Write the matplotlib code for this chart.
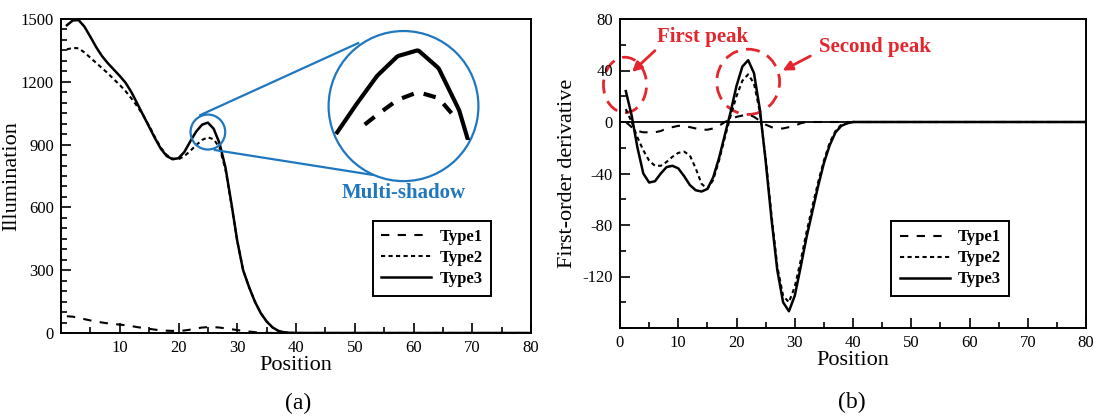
import numpy as np
import matplotlib
matplotlib.use("Agg")
import matplotlib.pyplot as plt
from matplotlib.patches import Ellipse
from matplotlib.ticker import MultipleLocator, FuncFormatter

plt.rcParams['font.family'] = ['Liberation Serif', 'DejaVu Serif']
plt.rcParams['axes.unicode_minus'] = False

# ---------------- data ----------------
position = np.arange(1, 81)

illum_type1 = [80, 78, 72, 66, 60, 55, 50, 46, 43, 40, 37, 33, 28, 24, 20, 16, 13, 11, 10, 10,
               12, 16, 21, 26, 28, 28, 26, 22, 18, 14, 10, 7, 4, 2, 1, 0] + [0] * 44
illum_type2 = [1355, 1362, 1360, 1340, 1315, 1290, 1265, 1240, 1212, 1185, 1155, 1120, 1082, 1040,
               990, 935, 885, 850, 833, 830, 845, 870, 897, 922, 935, 925, 885, 780, 615, 440,
               300, 220, 150, 95, 55, 27, 10, 3, 1, 0] + [0] * 40
illum_type3 = [1470, 1493, 1495, 1463, 1415, 1365, 1322, 1288, 1258, 1228, 1195, 1150, 1095, 1040,
               985, 930, 880, 845, 830, 835, 865, 915, 962, 995, 1005, 975, 905, 790, 620, 440,
               300, 220, 150, 95, 55, 27, 10, 3, 1, 0] + [0] * 40

deriv_type1 = [0, -4, -7, -8, -8, -8, -7, -5, -4, -3, -3, -4, -5, -6, -6, -5, -3, 0, 2, 4,
               5, 6, 4, 1, -2, -4, -5, -5, -4, -3, -1, 0] + [0] * 48
deriv_type2 = [10, 0, -12, -22, -30, -34, -34, -31, -27, -24, -23, -26, -36, -48, -52, -45, -30, -12, 5, 20,
               32, 37, 30, 8, -28, -72, -112, -135, -140, -128, -108, -86, -66, -47, -30, -16, -7, -2, -1, 0] + [0] * 40
deriv_type3 = [24, 5, -20, -40, -47, -46, -40, -35, -34, -36, -42, -49, -53, -54, -52, -43, -28, -10, 8, 28,
               43, 48, 38, 10, -30, -75, -115, -140, -147, -135, -113, -90, -70, -50, -32, -18, -8, -3, -1, 0] + [0] * 40

series_names = ['Type1', 'Type2', 'Type3']
x_ticks = [0, 10, 20, 30, 40, 50, 60, 70, 80]

# ---------------- styling ----------------
styles = {
    'Type1': dict(color='black', lw=1.5, linestyle=(0, (4, 4))),
    'Type2': dict(color='black', lw=1.5, linestyle=(0, (2, 1.6))),
    'Type3': dict(color='black', lw=1.8, linestyle='-'),
}
blue = '#1f77c0'
red = '#e3262d'

fig = plt.figure(figsize=(10.94, 4.17), dpi=100)
axA = fig.add_axes([61/1094, (417-333)/417, 470/1094, 314/417])
axB = fig.add_axes([620/1094, (417-328)/417, 466/1094, 309/417])

def style_axes(ax):
    for s in ax.spines.values():
        s.set_linewidth(1.4)
    ax.tick_params(which='both', direction='in', top=False, right=False, labelsize=12, width=1.2, pad=5)
    ax.tick_params(which='major', length=7)
    ax.tick_params(which='minor', length=4)
    ax.xaxis.set_minor_locator(MultipleLocator(5))

def make_legend(ax, x0, ytop):
    leg = ax.legend(loc='upper left', bbox_to_anchor=(x0, ytop), borderaxespad=0,
                    prop={'weight': 'bold', 'size': 12}, frameon=True, fancybox=False,
                    edgecolor='black', handlelength=3.0, handletextpad=0.5, labelspacing=0.3,
                    borderpad=0.5, framealpha=1)
    leg.get_frame().set_linewidth(1.4)
    return leg

# ---------------- panel (a) ----------------
for name, y in zip(series_names, [illum_type1, illum_type2, illum_type3]):
    axA.plot(position, y, label=name, **styles[name])
axA.set_xlim(0, 80)
axA.set_ylim(0, 1500)
axA.set_xticks(x_ticks)
axA.xaxis.set_major_formatter(FuncFormatter(lambda v, p: '' if v == 0 else f'{int(v)}'))
axA.set_yticks([0, 300, 600, 900, 1200, 1500])
axA.yaxis.set_minor_locator(MultipleLocator(50))
style_axes(axA)
axA.set_xlabel('Position', fontsize=16, labelpad=0)
axA.set_ylabel('Illumination', fontsize=16)
axA.yaxis.set_label_coords(-0.085, 0.5)
make_legend(axA, 0.664, 0.357)

# small circle and zoom circle
axA.add_patch(Ellipse((25, 960), 5.9, 167, fill=False, edgecolor=blue, lw=1.6, zorder=5))
axA.add_patch(Ellipse((58.3, 1084), 25.5, 717, facecolor='white', edgecolor=blue, lw=1.6, zorder=4))
axA.plot([23.7, 50.6], [1041, 1385], color=blue, lw=1.6, zorder=3)
axA.plot([26.2, 53.1], [874, 755], color=blue, lw=1.6, zorder=3)
axA.text(58.3, 668, 'Multi-shadow', color=blue, fontsize=15, fontweight='bold', ha='center', va='center')

ins = fig.add_axes([327/1094, (417-140)/417, 153/1094, 109/417], zorder=10)
ins.set_xlim(20.56, 28.02)
ins.set_ylim(855, 1037)
ins.axis('off')
ins.patch.set_visible(False)
g3 = np.linspace(21.0, 27.5, 80)
g2 = np.linspace(22.4, 26.7, 60)
ins.plot(g3, np.interp(g3, position, illum_type3), color='black', lw=3.0, solid_capstyle='butt')
ins.plot(g2, np.interp(g2, position, illum_type2), color='black', lw=3.0, linestyle=(0, (3, 2.5)))

# ---------------- panel (b) ----------------
for name, y in zip(series_names, [deriv_type1, deriv_type2, deriv_type3]):
    axB.plot(position, y, label=name, **styles[name])
axB.axhline(0, color='black', lw=1.3, zorder=1)
axB.set_xlim(0, 80)
axB.set_ylim(-160, 80)
axB.set_xticks(x_ticks)
axB.set_yticks([-160, -120, -80, -40, 0, 40, 80])
axB.yaxis.set_major_formatter(FuncFormatter(lambda v, p: '' if v == -160 else f'{int(v)}'))
axB.yaxis.set_minor_locator(MultipleLocator(20))
style_axes(axB)
axB.set_xlabel('Position', fontsize=16, labelpad=0)
axB.set_ylabel('First-order derivative', fontsize=16)
axB.yaxis.set_label_coords(-0.092, 0.5)
make_legend(axB, 0.582, 0.346)

axB.add_patch(Ellipse((0.86, 28.8), 7.4, 43, fill=False, edgecolor=red, lw=2.0,
                      linestyle=(0, (5, 3)), clip_on=False))
axB.add_patch(Ellipse((22.0, 31.2), 10.8, 50.7, fill=False, edgecolor=red, lw=2.0,
                      linestyle=(0, (5, 3))))
axB.annotate('', xy=(1.72, 37.4), xytext=(6.35, 56.9),
             arrowprops=dict(arrowstyle='-|>', color=red, lw=2.0, mutation_scale=14))
axB.annotate('', xy=(27.5, 39), xytext=(33.1, 52.2),
             arrowprops=dict(arrowstyle='-|>', color=red, lw=2.0, mutation_scale=14))
axB.text(14.2, 66.3, 'First peak', color=red, fontsize=15, fontweight='bold', ha='center', va='center')
axB.text(43.8, 58.5, 'Second peak', color=red, fontsize=15, fontweight='bold', ha='center', va='center')

fig.text(298/1094, 1 - 403/417, '(a)', fontsize=17, ha='center', va='center')
fig.text(852/1094, 1 - 402/417, '(b)', fontsize=17, ha='center', va='center')

fig.savefig('out.png', dpi=100)
